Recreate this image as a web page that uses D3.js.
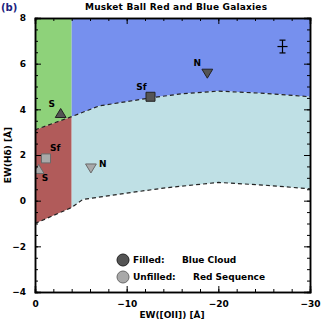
<!DOCTYPE html>
<html lang="en">
<head>
<meta charset="UTF-8">
<title>Musket Ball Red and Blue Galaxies</title>
<style>
    body, html { margin: 0; padding: 0; background: #fff; }
    svg text { font-family: "DejaVu Sans", Arial, sans-serif; font-weight: bold; }
</style>
</head>
<body>
<svg id="svg" width="327" height="327"></svg>
<script src="https://d3js.org/d3.v7.min.js"></script>
<script>
// boundary curves (EW[OII], EW(Hd))
const upperX = [0, -4, -7, -12.6, -16, -20, -25, -30];
const upperY = [3.1, 3.68, 4.15, 4.5, 4.68, 4.8, 4.7, 4.55];
const lowerX = [0, -4, -5.2, -10, -14, -20, -25, -30];
const lowerY = [-1, -0.3, 0.05, 0.33, 0.55, 0.8, 0.68, 0.52];
const splitX = -4;

// galaxy points
const ptLabels = ['S', 'Sf', 'N', 'Sf', 'S', 'N'];
const ptX = [-2.8, -12.6, -18.8, -1.2, -0.4, -6.1];
const ptY = [3.8, 4.55, 5.6, 1.85, 1.35, 1.45];
const ptShape = ['up', 'square', 'down', 'square', 'up', 'down'];
const ptFilled = [true, true, true, false, false, false];

// error bar
const errX = -27, errY = 6.75, errDx = 0.55, errDy = 0.28;

const xTicks = [0, -10, -20, -30];
const yTicks = [-4, -2, 0, 2, 4, 6, 8];

const margin = { top: 18, right: 17, bottom: 35, left: 35 };
const W = 327, H = 327;
const svg = d3.select('#svg');

const x = d3.scaleLinear().domain([0, -30]).range([margin.left, W - margin.right]);
const y = d3.scaleLinear().domain([-4, 8]).range([H - margin.bottom, margin.top]);

const green = '#8ed27a', blue = '#7690ee', red = '#b15b5a', lblue = '#bfe0e5';

const up = upperX.map((d, i) => [d, upperY[i]]);
const lo = lowerX.map((d, i) => [d, lowerY[i]]);

function interp(arr, xv) {
    for (let i = 0; i < arr.length - 1; i++) {
        const a = arr[i], b = arr[i + 1];
        if ((xv <= a[0] && xv >= b[0])) {
            const t = (xv - a[0]) / (b[0] - a[0]);
            return a[1] + t * (b[1] - a[1]);
        }
    }
    return arr[arr.length - 1][1];
}

function splitAt(arr, left) {
    const ys = interp(arr, splitX);
    if (left) return arr.filter(d => d[0] > splitX).concat([[splitX, ys]]);
    return [[splitX, ys]].concat(arr.filter(d => d[0] < splitX));
}

svg.append('clipPath').attr('id', 'clip')
    .append('rect')
    .attr('x', x(0)).attr('y', y(8))
    .attr('width', x(-30) - x(0)).attr('height', y(-4) - y(8));

const g = svg.append('g').attr('clip-path', 'url(#clip)');

const area = d3.area().x(d => x(d[0]));

// top regions
g.append('path').datum(splitAt(up, true))
    .attr('fill', green)
    .attr('d', area.y0(y(8)).y1(d => y(d[1])));
g.append('path').datum(splitAt(up, false))
    .attr('fill', blue)
    .attr('d', area.y0(y(8)).y1(d => y(d[1])));

// middle regions
function band(left) {
    const u = splitAt(up, left), l = splitAt(lo, left);
    const pts = u.map(d => [x(d[0]), y(d[1])]).concat(l.slice().reverse().map(d => [x(d[0]), y(d[1])]));
    return 'M' + pts.join('L') + 'Z';
}
g.append('path').attr('fill', red).attr('d', band(true));
g.append('path').attr('fill', lblue).attr('d', band(false));

// dashed boundaries
const line = d3.line().x(d => x(d[0])).y(d => y(d[1]));
[up, lo].forEach(arr => {
    g.append('path').datum(arr)
        .attr('fill', 'none').attr('stroke', '#222')
        .attr('stroke-width', 1.2).attr('stroke-dasharray', '4,3')
        .attr('d', line);
});

// axes with inward ticks
const fs = 9;
const xMinor = d3.range(0, -30.001, -2);
const yMinor = d3.range(-4, 8.001, 0.5);

svg.append('g').attr('transform', `translate(0,${y(-4)})`)
    .call(d3.axisBottom(x).tickValues(xMinor).tickSize(-3).tickFormat(''));
svg.append('g').attr('transform', `translate(0,${y(-4)})`)
    .call(d3.axisBottom(x).tickValues(xTicks).tickSize(-6).tickPadding(9)
        .tickFormat(d => d === 0 ? '0' : '\u2212' + Math.abs(d)));
svg.append('g').attr('transform', `translate(0,${y(8)})`)
    .call(d3.axisTop(x).tickValues(xMinor).tickSize(-3).tickFormat(''));
svg.append('g').attr('transform', `translate(0,${y(8)})`)
    .call(d3.axisTop(x).tickValues(xTicks).tickSize(-6).tickFormat(''));

svg.append('g').attr('transform', `translate(${x(0)},0)`)
    .call(d3.axisLeft(y).tickValues(yMinor).tickSize(-3).tickFormat(''));
svg.append('g').attr('transform', `translate(${x(0)},0)`)
    .call(d3.axisLeft(y).tickValues(yTicks).tickSize(-6).tickPadding(9)
        .tickFormat(d => d < 0 ? '\u2212' + Math.abs(d) : d));
svg.append('g').attr('transform', `translate(${x(-30)},0)`)
    .call(d3.axisRight(y).tickValues(yMinor).tickSize(-3).tickFormat(''));
svg.append('g').attr('transform', `translate(${x(-30)},0)`)
    .call(d3.axisRight(y).tickValues(yTicks).tickSize(-6).tickFormat(''));

svg.selectAll('.domain').attr('stroke', '#000').attr('stroke-width', 1.5);
svg.selectAll('.tick line').attr('stroke', '#000').attr('stroke-width', 1);
svg.selectAll('.tick text').attr('font-size', fs).attr('fill', '#000')
    .style('font-family', '"DejaVu Sans", Arial, sans-serif').style('font-weight', 'bold');

// markers
const sz = 4.5;
function shapePath(s, cx, cy) {
    if (s === 'square') return `M${cx - sz},${cy - sz}h${2 * sz}v${2 * sz}h${-2 * sz}Z`;
    if (s === 'up') return `M${cx},${cy - sz * 1.2}L${cx + sz * 1.2},${cy + sz * 0.8}L${cx - sz * 1.2},${cy + sz * 0.8}Z`;
    return `M${cx},${cy + sz * 1.2}L${cx + sz * 1.2},${cy - sz * 0.8}L${cx - sz * 1.2},${cy - sz * 0.8}Z`;
}
ptX.forEach((px, i) => {
    g.append('path')
        .attr('d', shapePath(ptShape[i], x(px), y(ptY[i])))
        .attr('fill', ptFilled[i] ? '#545454' : '#a9a9a9')
        .attr('stroke', ptFilled[i] ? '#222' : '#6a6a6a')
        .attr('stroke-width', 1);
});
// point labels
const lblDx = [-9, -9, -10, 4, 3, 8];
const lblDy = [-7, -7, -7, -7, 11, -1];
ptX.forEach((px, i) => {
    svg.append('text')
        .attr('x', x(px) + lblDx[i]).attr('y', y(ptY[i]) + lblDy[i])
        .attr('font-size', fs).attr('fill', '#000')
        .attr('text-anchor', i >= 3 ? 'start' : 'middle')
        .text(ptLabels[i]);
});

// error bar
const eb = svg.append('g').attr('stroke', '#000').attr('stroke-width', 1.2);
eb.append('line').attr('x1', x(errX - errDx)).attr('x2', x(errX + errDx)).attr('y1', y(errY)).attr('y2', y(errY));
eb.append('line').attr('x1', x(errX)).attr('x2', x(errX)).attr('y1', y(errY - errDy)).attr('y2', y(errY + errDy));
eb.append('line').attr('x1', x(errX) - 3).attr('x2', x(errX) + 3).attr('y1', y(errY + errDy)).attr('y2', y(errY + errDy));
eb.append('line').attr('x1', x(errX) - 3).attr('x2', x(errX) + 3).attr('y1', y(errY - errDy)).attr('y2', y(errY - errDy));

// legend
const legItems = [['Filled:', 'Blue Cloud', '#545454'], ['Unfilled:', 'Red Sequence', '#a9a9a9']];
legItems.forEach((d, i) => {
    const cy = 260 + i * 17;
    svg.append('circle').attr('cx', 123).attr('cy', cy).attr('r', 6)
        .attr('fill', d[2]).attr('stroke', i ? '#6a6a6a' : '#222');
    svg.append('text').attr('x', 133).attr('y', cy + 3).attr('font-size', fs).text(d[0]);
    svg.append('text').attr('x', i ? 193 : 182).attr('y', cy + 3).attr('font-size', fs).text(d[1]);
});

// title and labels
svg.append('text').attr('x', 176).attr('y', 10).attr('text-anchor', 'middle')
    .attr('font-size', 9).attr('textLength', 182).text('Musket Ball Red and Blue Galaxies');
svg.append('text').attr('x', 1).attr('y', 11).attr('font-size', 10)
    .attr('fill', '#1a237e').text('(b)');
svg.append('text').attr('x', 172).attr('y', 318).attr('text-anchor', 'middle')
    .attr('font-size', fs).text('EW([OII]) [\u00c5]');
svg.append('text').attr('transform', `translate(11,${155}) rotate(-90)`)
    .attr('text-anchor', 'middle').attr('font-size', fs).text('EW(H\u03b4) [\u00c5]');
</script>
</body>
</html>
